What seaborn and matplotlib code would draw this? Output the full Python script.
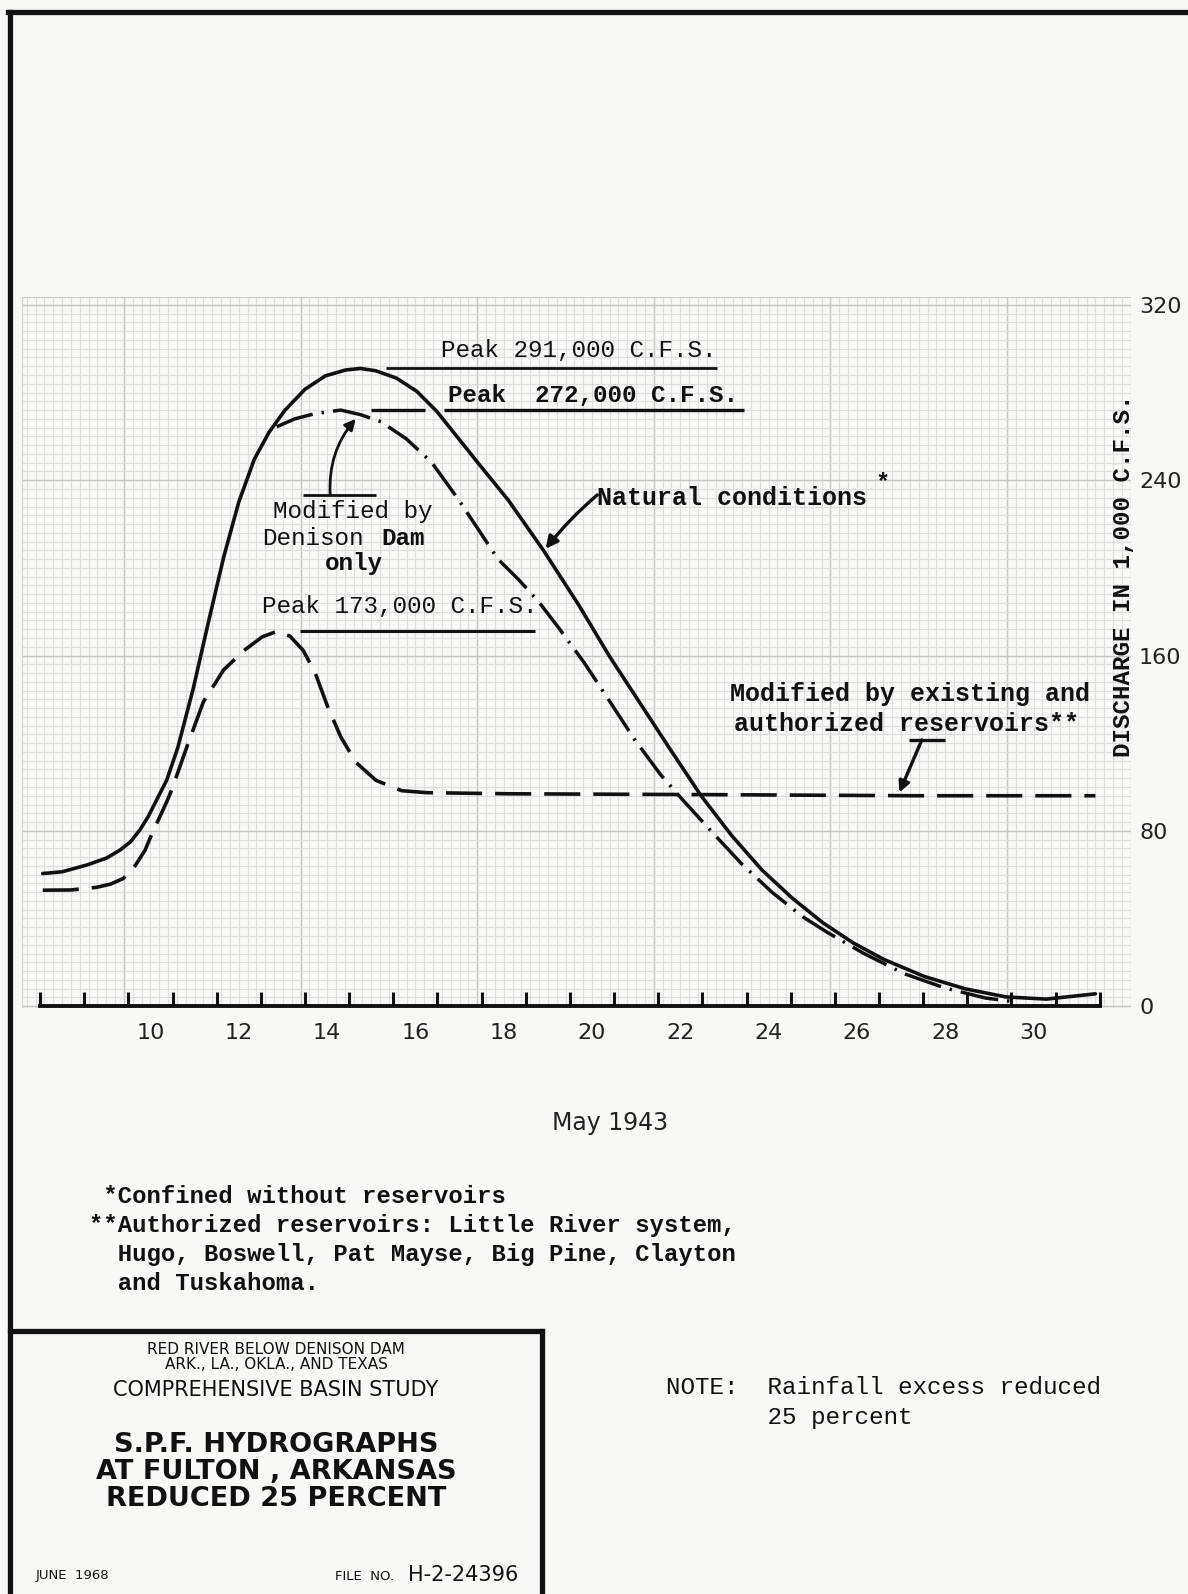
import matplotlib
matplotlib.use("Agg")
import matplotlib.pyplot as plt
import numpy as np
import seaborn as sns
from matplotlib.lines import Line2D

# S.P.F. hydrographs at Fulton, Arkansas (May 1943), discharge in 1,000 c.f.s.
natural_day = [8.06, 8.5, 9.06, 9.51, 9.81, 10.05, 10.26, 10.45, 10.64, 10.87, 11.12, 11.47,
               11.81, 12.16, 12.5, 12.85, 13.19, 13.54, 14.0, 14.46, 14.92, 15.26, 15.61,
               16.07, 16.53, 16.99, 17.45, 17.91, 18.6, 19.4, 20.21, 20.9, 21.59, 22.28,
               22.97, 23.66, 24.35, 25.04, 25.73, 26.42, 27.11, 28.03, 28.95, 29.87,
               30.79, 31.9]
natural_q = [60.5, 61.3, 64.4, 67.6, 71.2, 75.0, 80.4, 86.5, 94.1, 103.2, 118.0, 145.0,
             175.0, 205.0, 230.0, 249.5, 262.0, 271.8, 281.5, 287.6, 290.3, 291.0, 289.9,
             286.6, 280.6, 271.3, 259.7, 248.1, 231.0, 208.0, 182.7, 159.5, 138.2, 116.9,
             96.0, 77.9, 62.1, 49.2, 38.0, 28.8, 21.3, 13.5, 7.9, 4.2,
             3.2, 5.6]

denison_day = [13.36, 13.77, 14.23, 14.81, 15.26, 15.72, 16.3, 16.87, 17.45, 17.91, 18.37,
               18.83, 19.29, 19.75, 20.32, 20.9, 21.47, 22.05, 22.51, 23.2, 23.89, 24.58,
               25.27, 25.85, 26.65, 27.57, 28.49, 29.41, 30.1]
denison_q = [264.4, 268.0, 270.4, 272.0, 269.9, 266.7, 258.8, 248.1, 231.9, 218.0, 204.0,
             194.8, 184.6, 172.5, 156.8, 139.1, 121.5, 105.7, 95.1, 79.8, 64.9, 51.9,
             40.8, 33.4, 24.1, 14.8, 8.3, 3.7, 1.9]

reservoir_day = [8.06, 8.7, 9.28, 9.6, 9.89, 10.15, 10.38, 10.49, 10.68, 10.87, 10.98, 11.34,
                 11.7, 12.16, 12.62, 13.03, 13.36, 13.66, 13.96, 14.23, 14.51, 14.81, 15.15,
                 15.61, 16.19, 16.76, 18.6, 23.2, 27.8, 31.9]
reservoir_q = [52.9, 53.0, 54.2, 55.7, 58.3, 64.0, 71.2, 76.6, 85.0, 93.3, 98.6, 119.2,
               138.9, 153.5, 162.3, 168.5, 171.0, 168.8, 162.3, 152.1, 136.8, 122.9, 111.3,
               103.0, 98.3, 97.4, 96.9, 96.5, 96.0, 96.0]

day_ticks = list(range(8, 33))
day_labels = [10, 12, 14, 16, 18, 20, 22, 24, 26, 28, 30]
q_ticks = [0, 80, 160, 240, 320]

PAPER = "#f8f8f6"
INK = "#111111"
TYPE = "Liberation Mono"
LETTER = "DejaVu Sans"

sns.set_style("white")
plt.rcParams["font.family"] = ["DejaVu Sans"]

W, H = 1188, 1594
fig = plt.figure(figsize=(W / 100, H / 100), dpi=100, facecolor=PAPER)


def fx(px):
    return px / W


def fy(py):
    return 1 - py / H


# graph paper area
x0, x1, y0, y1 = 7.6, 32.7, -1.0, 323.7
ax = fig.add_axes([fx(22.4), fy(1008.3), fx(1130.7) - fx(22.4), fy(296.8) - fy(1008.3)])
ax.set_facecolor(PAPER)
ax.set_xlim(x0, x1)
ax.set_ylim(y0, y1)

minor_x = 9.9 + np.arange(-12, 120) / 5
minor_x = minor_x[(minor_x >= x0) & (minor_x <= x1)]
ax.vlines(minor_x, y0, y1, color="#dedede", lw=0.8, zorder=0)
major_x = 9.9 + 4 * np.arange(0, 6)
ax.vlines(major_x, y0, y1, color="#c6c6c6", lw=1.0, zorder=0)
minor_y = np.arange(0, 81) * 4
ax.hlines(minor_y, x0, x1, color="#dedede", lw=0.8, zorder=0)
ax.hlines(q_ticks, x0, x1, color="#c6c6c6", lw=1.0, zorder=0)
ax.hlines([y1], x0, x1, color="#cccccc", lw=0.8, zorder=0)
ax.vlines([x0, x1], y0, y1, color="#cccccc", lw=0.8, zorder=0)

# hydrographs
sns.lineplot(x=natural_day, y=natural_q, ax=ax, color=INK, lw=2.6, sort=False,
             estimator=None, solid_capstyle="round", solid_joinstyle="round", zorder=4)
sns.lineplot(x=denison_day, y=denison_q, ax=ax, color=INK, lw=2.5, sort=False,
             estimator=None, linestyle=(0, (11, 2.6, 0.7, 2.6)), zorder=3)
sns.lineplot(x=reservoir_day, y=reservoir_q, ax=ax, color=INK, lw=2.6, sort=False,
             estimator=None, linestyle=(0, (10, 3.6)), zorder=3)

# axis: baseline with day ticks, labels centred in the day
for side in ["top", "left", "right"]:
    ax.spines[side].set_visible(False)
ax.spines["bottom"].set_position(("data", 0))
ax.spines["bottom"].set_bounds(day_ticks[0], day_ticks[-1])
ax.spines["bottom"].set_linewidth(2.8)
ax.spines["bottom"].set_color(INK)
ax.spines["bottom"].set_zorder(5)
ax.set_xticks(day_ticks)
ax.set_xticklabels([])
ax.set_xticks([d + 0.5 for d in day_labels], minor=True)
ax.set_xticklabels([str(d) for d in day_labels], minor=True)
ax.tick_params(axis="x", which="major", bottom=True, direction="in", length=10,
               width=2.2, color=INK)
ax.tick_params(axis="x", which="minor", bottom=True, length=0, pad=12, labelsize=16)
ax.yaxis.tick_right()
ax.set_yticks(q_ticks)
ax.set_yticklabels([str(q) for q in q_ticks])
ax.tick_params(axis="y", length=0, pad=6, labelsize=16)
for lab in ax.get_xticklabels(minor=True) + ax.get_yticklabels():
    lab.set_fontfamily(LETTER)
    lab.set_color("#222222")

ax.yaxis.set_label_position("right")
ax.set_ylabel("DISCHARGE IN 1,000 C.F.S.", fontfamily=TYPE, fontsize=17.4,
              fontweight="bold", rotation=90, color=INK)
ax.yaxis.set_label_coords(0.9935, 0.608)
ax.yaxis.label.set_va("center")
ax.set_xlabel("May 1943", fontfamily=LETTER, fontsize=17, color="#222222")
ax.xaxis.set_label_coords(0.53, -0.161)
ax.xaxis.label.set_va("center")

# peak call-outs
ax.hlines(max(natural_q), 15.84, 23.32, color=INK, lw=2.0, zorder=4)
ax.text(17.09, 299.2, "Peak 291,000 C.F.S.", fontfamily=TYPE, fontsize=17.5,
        ha="left", va="center", color=INK)
ax.hlines([max(denison_q)] * 2, [15.49, 17.15], [16.72, 23.94], color=INK, lw=2.4, zorder=4)
ax.text(17.24, 278.7, "Peak  272,000 C.F.S.", fontfamily=TYPE, fontsize=17.5,
        fontweight="bold", ha="left", va="center", color=INK)
ax.hlines(max(reservoir_q), 13.88, 19.22, color=INK, lw=2.2, zorder=4)
ax.text(13.03, 182.3, "Peak 173,000 C.F.S.", fontfamily=TYPE, fontsize=17.5,
        ha="left", va="center", color=INK)

# Denison Dam only label
ax.hlines(233.3, 13.95, 15.61, color=INK, lw=2.0)
ax.annotate("", xy=(15.15, 268.0), xytext=(14.57, 233.3),
            arrowprops=dict(arrowstyle="-|>", color=INK, lw=2.0, mutation_scale=16,
                            connectionstyle="arc3,rad=-0.2", shrinkA=0, shrinkB=0))
ax.text(13.27, 225.9, "Modified by", fontfamily=TYPE, fontsize=17.5, ha="left",
        va="center", color=INK)
ax.text(13.03, 213.3, "Denison", fontfamily=TYPE, fontsize=17.5, ha="left",
        va="center", color=INK)
ax.text(15.72, 213.3, "Dam", fontfamily=TYPE, fontsize=17.5, fontweight="bold",
        ha="left", va="center", color=INK)
ax.text(14.46, 201.8, "only", fontfamily=TYPE, fontsize=17.5, fontweight="bold",
        ha="left", va="center", color=INK)

# natural conditions label
ax.annotate("", xy=(19.45, 208.7), xytext=(20.62, 233.3),
            arrowprops=dict(arrowstyle="-|>", color=INK, lw=2.4, mutation_scale=18,
                            connectionstyle="arc3,rad=0.05", shrinkA=0, shrinkB=0))
ax.text(20.62, 231.9, "Natural conditions", fontfamily=TYPE, fontsize=18,
        fontweight="bold", ha="left", va="center", color=INK)
ax.text(26.93, 238.9, "*", fontfamily=TYPE, fontsize=17, fontweight="bold",
        ha="left", va="center", color=INK)

# reservoirs label
ax.text(23.62, 142.4, "Modified by existing and", fontfamily=TYPE, fontsize=18,
        fontweight="bold", ha="left", va="center", color=INK)
ax.text(23.71, 128.9, "authorized reservoirs**", fontfamily=TYPE, fontsize=18,
        fontweight="bold", ha="left", va="center", color=INK)
ax.hlines(121.5, 27.69, 28.5, color=INK, lw=2.4)
ax.annotate("", xy=(27.46, 97.5), xytext=(27.97, 121.5),
            arrowprops=dict(arrowstyle="-|>", color=INK, lw=2.4, mutation_scale=16,
                            shrinkA=0, shrinkB=0))

# footnotes
notes = [" *Confined without reservoirs",
         "**Authorized reservoirs: Little River system,",
         "  Hugo, Boswell, Pat Mayse, Big Pine, Clayton",
         "  and Tuskahoma."]
for i, line in enumerate(notes):
    fig.text(fx(89.4), fy(1196.1 + i * 29.1), line, fontfamily=TYPE, fontsize=17.2,
             fontweight="bold", ha="left", va="center", color=INK)

fig.text(fx(665.6), fy(1387.2), "NOTE:  Rainfall excess reduced", fontfamily=TYPE,
         fontsize=17.5, ha="left", va="center", color=INK)
fig.text(fx(665.6), fy(1417.7), "       25 percent", fontfamily=TYPE,
         fontsize=17.5, ha="left", va="center", color=INK)

# page border and title block
border = dict(color=INK, lw=3.8, solid_capstyle="projecting", transform=fig.transFigure)
fig.add_artist(Line2D([fx(8), fx(W)], [fy(12), fy(12)], **border))
fig.add_artist(Line2D([fx(10), fx(10)], [fy(12), fy(H)], **border))
fig.add_artist(Line2D([fx(10), fx(541.7)], [fy(1331), fy(1331)], **border))
fig.add_artist(Line2D([fx(541.7), fx(541.7)], [fy(1331), fy(H)], **border))

cx = fx(276)
fig.text(cx, fy(1349.6), "RED RIVER BELOW DENISON DAM", fontfamily=LETTER, fontsize=11,
         ha="center", va="center", color=INK)
fig.text(cx, fy(1364.8), "ARK., LA., OKLA., AND TEXAS", fontfamily=LETTER, fontsize=11,
         ha="center", va="center", color=INK)
fig.text(cx, fy(1390.2), "COMPREHENSIVE BASIN STUDY", fontfamily=LETTER, fontsize=15,
         ha="center", va="center", color=INK)
for i, line in enumerate(["S.P.F. HYDROGRAPHS", "AT FULTON , ARKANSAS", "REDUCED 25 PERCENT"]):
    fig.text(cx, fy(1445 + i * 27), line, fontfamily=LETTER, fontsize=19.5,
             fontweight="bold", ha="center", va="center", color=INK)
fig.text(fx(35.6), fy(1576), "JUNE  1968", fontfamily=LETTER, fontsize=9.5,
         ha="left", va="center", color=INK)
fig.text(fx(335), fy(1576), "FILE  NO.", fontfamily=LETTER, fontsize=9.5,
         ha="left", va="center", color=INK)
fig.text(fx(408), fy(1575), "H-2-24396", fontfamily=LETTER, fontsize=15,
         ha="left", va="center", color=INK)

fig.savefig("out.png", dpi=100, facecolor=PAPER)
